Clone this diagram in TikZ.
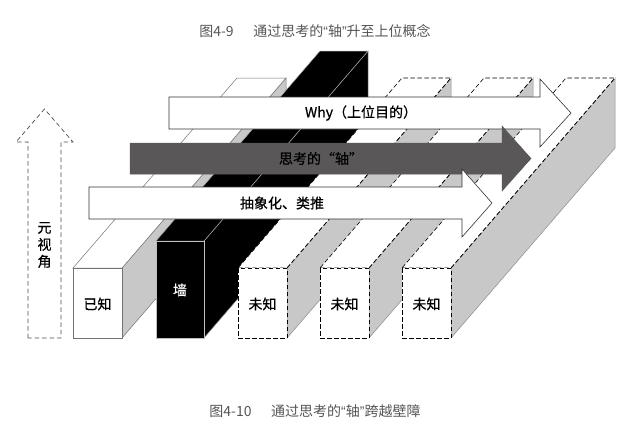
\documentclass[tikz,border=0pt]{standalone}
\usepackage{fontspec}
\setmainfont{Noto Sans CJK SC}
\newfontfamily\lblfont[FakeBold=0.6]{Noto Sans CJK SC}
\newfontfamily\quotefont{Liberation Sans}
\definecolor{sidegray}{HTML}{C8C8C8}
\definecolor{axisgray}{HTML}{595757}
\definecolor{capgray}{HTML}{555555}
\newcommand\nq[1]{{\quotefont #1}}
\begin{document}
\begin{tikzpicture}[x=1pt,y=-1pt,
  knowntop/.style={fill=white,draw=black!55,line width=0.5pt},
  knownside/.style={fill=sidegray,draw=black!55,line width=0.5pt},
  walltop/.style={fill=black,draw=black!35,line width=0.5pt},
  unktop/.style={fill=white,draw=black,line width=0.6pt,dash pattern=on 4.5pt off 2.5pt},
  unkside/.style={fill=sidegray,draw=black!45,line width=0.5pt},
  whitearrow/.style={fill=white,draw=black!80,line width=0.6pt},
  darkarrow/.style={fill=axisgray,draw=axisgray,line width=0.5pt},
  metaarrow/.style={draw=black!70,line width=0.7pt,dash pattern=on 4.5pt off 3pt},
  lbl/.style={font=\lblfont\fontsize{14}{16}\selectfont,inner sep=0pt},
  captxt/.style={font=\fontsize{14}{16}\selectfont,text=capgray,inner sep=0pt}]
\useasboundingbox (0,0) rectangle (637,434);
% captions
\node[captxt] (cap1) at (315,31) {图4-9\hspace{1.4em}通过思考的\nq{“}轴\nq{”}升至上位概念};
\node[captxt] (cap2) at (315,411) {图4-10\hspace{1.4em}通过思考的\nq{“}轴\nq{”}跨越壁障};
% known box
\draw[knownside] (122,268) -- ++(164,-190) -- ++(0,70) -- ++(-164,190) -- cycle;
\draw[knowntop] (73,268) -- ++(49,0) -- ++(164,-190) -- ++(-49,0) -- cycle;
\draw[knowntop] (73,268) rectangle (122,338);
\node[lbl] (known) at (97.5,304) {已知};
% wall
\draw[walltop] (204,241) -- ++(164,-190) -- ++(0,97) -- ++(-164,190) -- cycle;
\draw[walltop] (156,241) -- ++(48,0) -- ++(164,-190) -- ++(-48,0) -- cycle;
\draw[walltop,draw=black!25] (156,241) rectangle (204,338);
\node[lbl,text=white] (wall) at (180,290) {墙};
% unknown boxes
\foreach \x/\n in {238/unkA,320/unkB,402/unkC}{
  \draw[unkside] (\x+49,268) -- ++(164,-190) -- ++(0,70) -- ++(-164,190) -- cycle;
  \draw[unktop] (\x,268) -- ++(49,0) -- ++(164,-190) -- ++(-49,0) -- cycle;
  \draw[unktop] (\x+49,268) -- ++(164,-190);
  \draw[unktop] (\x,268) rectangle (\x+49,338);
  \node[lbl] (\n) at (\x+24.5,304) {未知};
}
% arrows
\draw[whitearrow] (169,97) -- (540,97) -- (540,79) -- (571,113) -- (540,147) -- (540,129) -- (169,129) -- cycle;
\node[lbl] (why) at (361,113) {Why（上位目的）};
\draw[darkarrow] (130,143) -- (502,143) -- (502,126) -- (531,158.5) -- (502,191) -- (502,174) -- (130,174) -- cycle;
\node[lbl] (axis) at (321,158.5) {思考的“轴”};
\draw[whitearrow] (89,187) -- (462,187) -- (462,169) -- (492,203) -- (462,237) -- (462,219) -- (89,219) -- cycle;
\node[lbl] (abs) at (282,203) {抽象化、类推};
% meta arrow
\draw[metaarrow] (28,338) -- (28,142) -- (16,142) -- (44.5,109) -- (73,142) -- (61,142) -- (61,338) -- cycle;
\node[lbl,align=center,font=\lblfont\fontsize{14}{17}\selectfont] (meta) at (44.5,245) {元\\视\\角};
\end{tikzpicture}
\end{document}
